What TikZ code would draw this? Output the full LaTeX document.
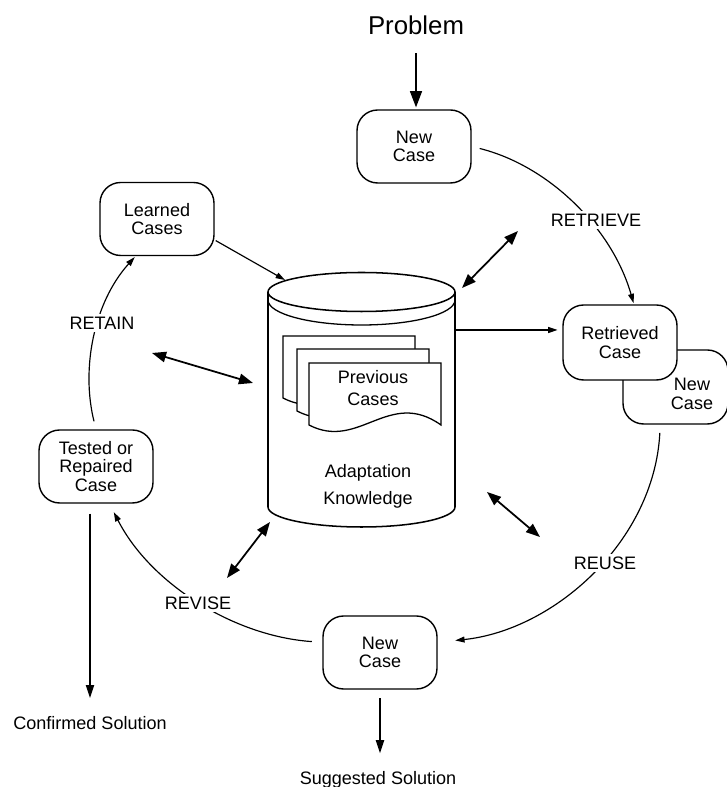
\documentclass[tikz,border=0pt]{standalone}
\usepackage{fontspec}
\setmainfont{Liberation Sans}
\usetikzlibrary{arrows.meta,positioning}

\begin{document}
\begin{tikzpicture}[x=0.03cm,y=0.03cm,
    casebox/.style={draw,line width=1.2pt,rounded corners=0.62cm,fill=white,
      minimum width=3.42cm,minimum height=2.19cm,inner sep=0pt,align=center,
      font=\fontsize{15.4pt}{16pt}\selectfont},
    txt/.style={inner sep=0pt,font=\fontsize{15.4pt}{18pt}\selectfont},
    stage/.style={txt,fill=white,inner sep=2pt},
    flow/.style={line width=1pt,-{Triangle[length=8pt,width=5pt]}},
    knows/.style={line width=1.5pt,{Triangle[length=12pt,width=9pt]}-{Triangle[length=12pt,width=9pt]}},
    doc/.style={draw,fill=white,line width=1.1pt}]
  \useasboundingbox (0,0) rectangle (726,787);

  % problem and the cases round the cycle
  \node[anchor=base,inner sep=0pt,font=\fontsize{22pt}{24pt}\selectfont] (problem) at (416,752) {Problem};
  \node[casebox] (newtop) at (414,640.5) {New\\Case};
  \node[casebox,minimum width=3.15cm,minimum height=2.22cm] (newbehind) at (675.5,400) {};
  \node[txt,align=center,font=\fontsize{15.4pt}{16pt}\selectfont] (newbehindtxt) at (692,393) {New\\Case};
  \node[casebox,minimum height=2.25cm] (retrieved) at (620,444.5) {Retrieved\\Case};
  \node[casebox] (newbottom) at (380,134.5) {New\\Case};
  \node[casebox] (tested) at (96,320.5) {Tested or\\Repaired\\Case};
  \node[casebox] (learned) at (157,568) {Learned\\Cases};
  \node[txt,anchor=base] (confirmed) at (90,57) {Confirmed Solution};
  \node[txt,anchor=base] (suggested) at (378,3) {Suggested Solution};

  % case base cylinder
  \draw[line width=1.3pt] (268,495) -- (268,280) arc[start angle=180,end angle=360,x radius=93.5,y radius=20] -- (455,495);
  \draw[line width=1.3pt] (361.5,495) ellipse[x radius=93.5,y radius=19.5];
  \draw[line width=1.1pt] (268,487) arc[start angle=180,end angle=360,x radius=93.5,y radius=25];
  \foreach \dx/\dy in {283/451,297/438,309/424}{
    \begin{scope}[shift={(\dx,\dy)}]
      \path[doc] (0,0) -- (132,0) -- (132,-62) .. controls (80,-25) and (50,-88) .. (0,-62) -- cycle;
    \end{scope}
  }
  \node[txt,align=center,font=\fontsize{15.4pt}{18.7pt}\selectfont] (prevcases) at (373,399) {Previous\\Cases};
  \node[txt,align=center,font=\fontsize{15.4pt}{23pt}\selectfont] (adaptknow) at (368,301) {Adaptation\\Knowledge};

  \coordinate (dbin) at (285,507);
  \coordinate (dbout) at (455,457);
  \coordinate (retrieveA) at (462,499); \coordinate (retrieveB) at (518,556);
  \coordinate (retainA) at (152,434);   \coordinate (retainB) at (253,404);
  \coordinate (reviseA) at (227,209);   \coordinate (reviseB) at (270,265);
  \coordinate (reuseA) at (487,295);    \coordinate (reuseB) at (540,250);

  % the cycle
  \draw[flow,shorten <=7pt,shorten >=1pt] (newtop.east) to[out=-14,in=106,looseness=0.9] (retrieved.70);
  \draw[flow,shorten <=7pt,shorten >=15pt] (newbehind.-112) to[out=-93,in=6,looseness=0.96] (newbottom.10);
  \draw[flow,shorten <=9pt,shorten >=8pt] (newbottom.170) to[out=176,in=-63,looseness=0.9] (tested.-70);
  \draw[flow,shorten <=7pt,shorten >=1pt] (tested.north) to[out=104,in=-132,looseness=0.9] (learned.-120);
  \node[stage] (retrieve) at (596,567) {RETRIEVE};
  \node[stage] (reuse) at (605,224) {REUSE};
  \node[stage] (revise) at (198,184) {REVISE};
  \node[stage] (retain) at (102,464) {RETAIN};

  % in and out
  \draw[line width=2pt,-{Triangle[length=14pt,width=10pt]},shorten <=15pt,shorten >=1.5pt] (problem.south) -- (problem.south |- newtop.north);
  \draw[flow,-{Triangle[length=11pt,width=7pt]},shorten <=8.5pt,shorten >=16pt] (tested.south -| confirmed.north) -- (confirmed.north);
  \draw[flow,-{Triangle[length=11pt,width=7pt]},shorten <=7.5pt,shorten >=15pt] (newbottom.south) -- (newbottom.south |- suggested.north);
  \draw[flow,shorten <=1pt] (learned.-20) -- (dbin);
  \draw[flow,shorten >=4pt] (dbout) -- (dbout -| retrieved.west);

  % knowledge used by each step
  \draw[knows] (retrieveA) -- (retrieveB);
  \draw[knows] (retainA) -- (retainB);
  \draw[knows] (reviseA) -- (reviseB);
  \draw[knows] (reuseA) -- (reuseB);
\end{tikzpicture}
\end{document}
